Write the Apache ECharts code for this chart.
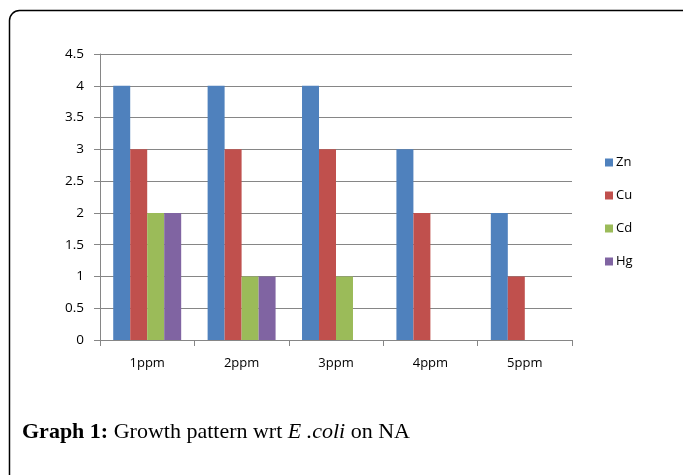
<!DOCTYPE html>
<html><head><meta charset="utf-8">
<script src="https://cdn.jsdelivr.net/npm/echarts@6/dist/echarts.min.js"></script>
<style>html,body{margin:0;padding:0;background:#fff}#c{width:683px;height:475px}</style>
</head><body><div id="c"></div>
<script>
var categories = ['1ppm','2ppm','3ppm','4ppm','5ppm'];
var seriesNames = ['Zn','Cu','Cd','Hg'];
var zn = [4,4,4,3,2];
var cu = [3,3,3,2,1];
var cd = [2,1,1,0,0];
var hg = [2,1,0,0,0];
var values = [zn,cu,cd,hg];
var colors = ['#4F81BD','#C0504D','#9BBB59','#8064A2'];
var font = 'Open Sans';
var chart = echarts.init(document.getElementById('c'));
chart.setOption({
  animation:false,
  grid:{left:100,right:111,top:54,bottom:135},
  legend:{orient:'vertical',left:600,top:151,itemWidth:8,itemHeight:8,itemGap:20,icon:'rect',
    textStyle:{fontFamily:font,fontSize:13,color:'#000',padding:[0,0,0,-2]},data:seriesNames},
  xAxis:{type:'category',data:categories,
    axisLine:{lineStyle:{color:'#868686'}},
    axisTick:{show:true,length:6,lineStyle:{color:'#868686'}},
    axisLabel:{fontFamily:font,fontSize:13,color:'#000',margin:17}},
  yAxis:{type:'value',min:0,max:4.5,interval:0.5,
    axisLine:{show:true,lineStyle:{color:'#868686'}},
    axisTick:{show:true,length:6,lineStyle:{color:'#868686'}},
    splitLine:{lineStyle:{color:'#868686'}},
    axisLabel:{fontFamily:font,fontSize:13.5,color:'#000',margin:16}},
  series: seriesNames.map(function(n,i){return {name:n,type:'bar',data:values[i],
    itemStyle:{color:colors[i]},barGap:'0%',barCategoryGap:'28%'};}),
  graphic:[
    {type:'rect',shape:{x:9.5,y:10.5,width:700,height:500,r:10},style:{fill:'none',stroke:'#000',lineWidth:1.5}},
    {type:'text',left:22,top:421,style:{
      text:'{b|Graph 1:} Growth pattern wrt {i|E .coli} on NA',
      fontFamily:'Liberation Serif',fontSize:22,fill:'#000',
      rich:{b:{fontFamily:'Liberation Serif',fontSize:22,fontWeight:'bold'},
            i:{fontFamily:'Liberation Serif',fontSize:22,fontStyle:'italic'}}}}
  ]
});
</script></body></html>
